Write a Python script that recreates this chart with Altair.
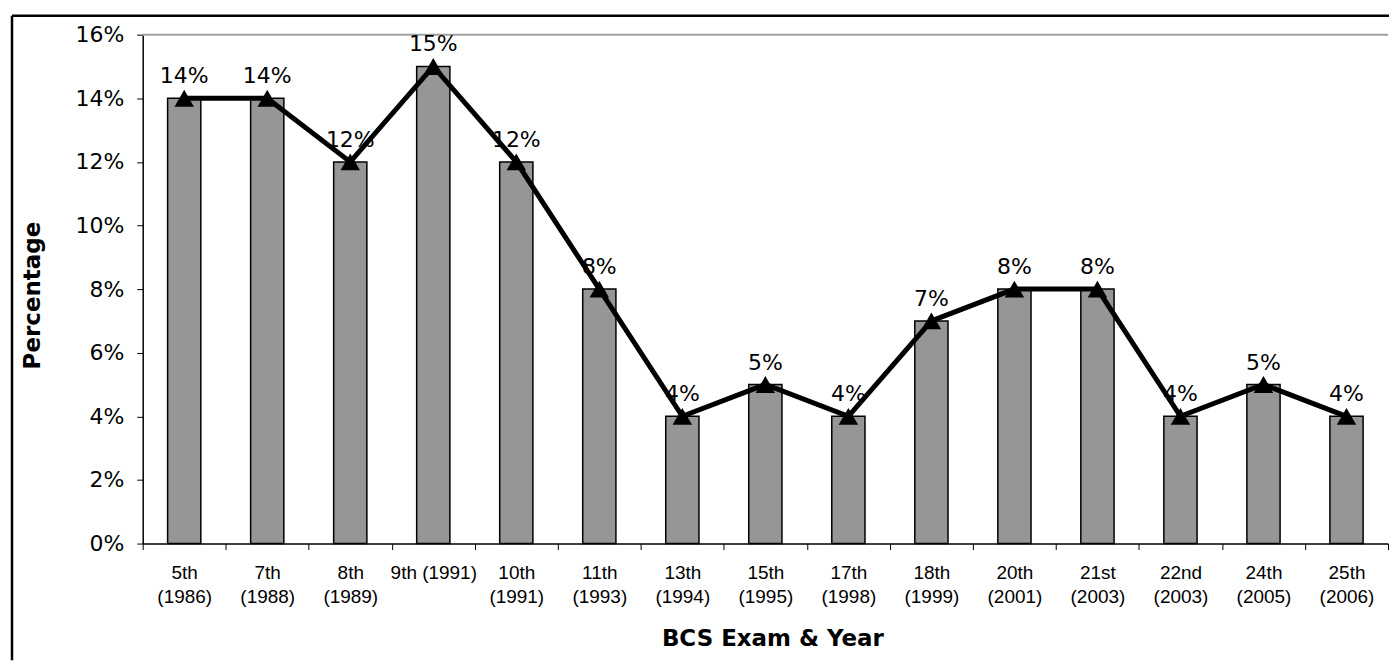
import altair as alt
import pandas as pd

# ---- data ----
exams = ["5th|(1986)", "7th|(1988)", "8th|(1989)", "9th (1991)", "10th|(1991)",
         "11th|(1993)", "13th|(1994)", "15th|(1995)", "17th|(1998)", "18th|(1999)",
         "20th|(2001)", "21st|(2003)", "22nd|(2003)", "24th|(2005)", "25th|(2006)"]
percent = [14, 14, 12, 15, 12, 8, 4, 5, 4, 7, 8, 8, 4, 5, 4]
y_ticks = [0, 0.02, 0.04, 0.06, 0.08, 0.10, 0.12, 0.14, 0.16]

df = pd.DataFrame({"exam": exams, "pct": [p / 100 for p in percent]})

W, H = 1248, 510

x = alt.X(
    "exam:N", sort=exams,
    scale=alt.Scale(paddingInner=0, paddingOuter=0),
    title="BCS Exam & Year",
    axis=alt.Axis(
        labelExpr="split(datum.label, '|')",
        labelFont="Liberation Sans",
        labelFontSize=19, labelColor="black", labelLineHeight=24,
        labelBaseline="top", labelPadding=14, labelAngle=0,
        tickBand="extent", tickSize=6, tickColor="black", tickWidth=1,
        domainColor="black", domainWidth=1.5, grid=False,
        titleFont="DejaVu Sans", titleFontSize=23, titleFontWeight="bold",
        titleColor="black", titleX=631, titleY=102, titleBaseline="alphabetic",
        titleAlign="center",
    ),
)
y = alt.Y(
    "pct:Q",
    scale=alt.Scale(domain=[0, 0.16], nice=False),
    title="Percentage",
    axis=alt.Axis(
        values=y_ticks, format=".0%",
        labelFont="DejaVu Sans", labelFontSize=22, labelColor="black",
        labelPadding=13, tickSize=6, tickColor="black", tickWidth=1,
        domainColor="black", domainWidth=1.5, grid=False,
        titleFont="DejaVu Sans", titleFontSize=23, titleFontWeight="bold",
        titleColor="black", titleAngle=-90, titleX=-110, titleY=261,
        titleAlign="center", titleBaseline="middle",
    ),
)

base = alt.Chart(df)

one = pd.DataFrame({"a": [0]})
plot_top = alt.Chart(one).mark_rule(color="#a0a0a0", strokeWidth=2).encode(
    x=alt.value(0), x2=alt.value(W), y=alt.value(0))

bars = base.mark_bar(width=alt.RelativeBandSize(0.4), color="#969696",
                     stroke="black", strokeWidth=1.5).encode(x=x, y=y)
line = base.mark_line(color="black", strokeWidth=5).encode(x=x, y=y)
pts = base.mark_point(shape="triangle-up", size=380, filled=True,
                      color="black", opacity=1).encode(x=x, y=y)
labels = base.mark_text(font="DejaVu Sans", fontSize=22, baseline="alphabetic",
                        dy=-15, color="black").encode(
    x=x, y=y, text=alt.Text("pct:Q", format=".0%"))

border_top = alt.Chart(one).mark_rule(color="black", strokeWidth=2.5).encode(
    x=alt.value(-131), x2=alt.value(W + 1), y=alt.value(-19))
border_left = alt.Chart(one).mark_rule(color="black", strokeWidth=2.5).encode(
    x=alt.value(-131), y=alt.value(-19), y2=alt.value(627))

chart = alt.layer(plot_top, bars, line, pts, labels, border_top, border_left).properties(
    width=W, height=H,
    padding={"left": 2, "top": 5, "right": 0, "bottom": 0},
    background="white",
).configure_view(strokeWidth=0)

chart.save("out.html", embed_options={"renderer": "svg", "actions": False})
